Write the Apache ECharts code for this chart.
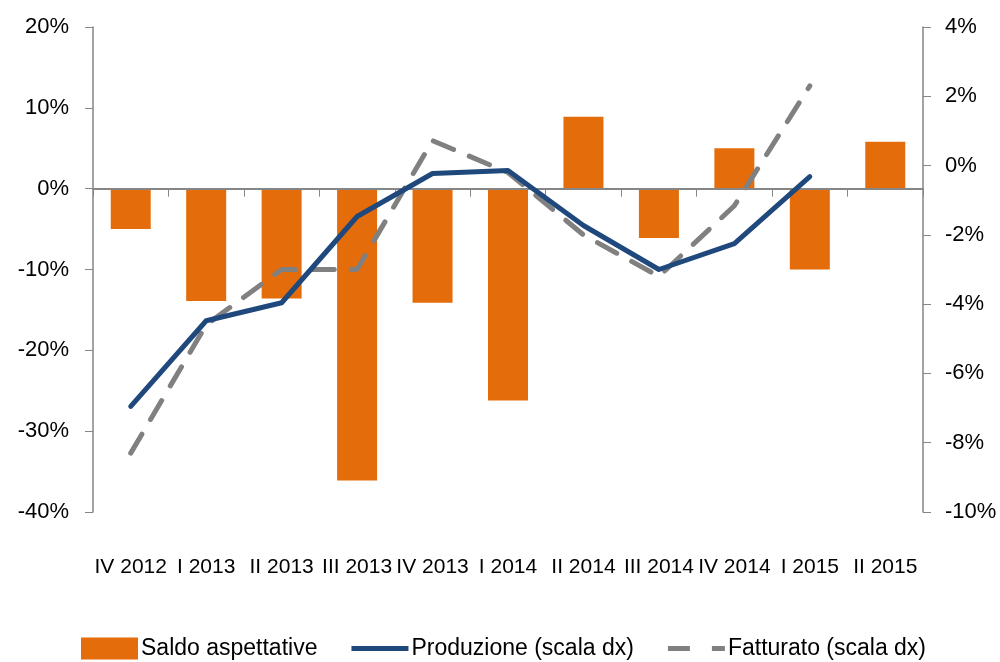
<!DOCTYPE html>
<html>
<head>
<meta charset="utf-8">
<script src="https://cdn.jsdelivr.net/npm/echarts@6/dist/echarts.min.js"></script>
<style>
  html, body { margin: 0; padding: 0; background: #fff; }
  #main { width: 1000px; height: 662px; }
</style>
</head>
<body>
<div id="main"></div>
<script>
// dati
var categories = ["IV 2012", "I 2013", "II 2013", "III 2013", "IV 2013", "I 2014",
  "II 2014", "III 2014", "IV 2014", "I 2015", "II 2015"];
var saldoAspettative = [-5.0, -13.9, -13.6, -36.1, -14.1, -26.2, 8.9, -6.1, 5.0, -10.0, 5.8];
var produzione = [-6.95, -4.48, -3.96, -1.47, -0.23, -0.14, -1.73, -3.0, -2.25, -0.32, null];
var fatturato = [-8.3, -4.6, -3.0, -3.0, 0.72, -0.2, -2.0, -3.2, -1.16, 2.3, null];

var font = "'Liberation Sans', Arial, sans-serif";

var myChart = echarts.init(document.getElementById("main"));
var option = {
  backgroundColor: "#fff",
  animation: false,
  textStyle: { fontFamily: font },
  grid: { left: 93, right: 77, top: 27, bottom: 150 },
  legend: {
    top: 632,
    left: 76,
    itemGap: 34,
    itemWidth: 57,
    itemHeight: 22,
    textStyle: { fontSize: 23, color: "#000", fontFamily: font, padding: [0, 0, 0, -2] },
    data: [
      { name: "Saldo aspettative", icon: "rect" },
      { name: "Produzione (scala dx)", icon: "path://M0,0 L57,0 L57,5 L0,5 Z" },
      { name: "Fatturato (scala dx)", icon: "path://M0,0 L22,0 L22,5 L0,5 Z M44,0 L57,0 L57,5 L44,5 Z" }
    ]
  },
  xAxis: [
    {
      type: "category",
      data: categories,
      axisLine: { onZero: true, onZeroAxisIndex: 0, lineStyle: { color: "#868686", width: 2 } },
      axisTick: { show: true, length: 8, lineStyle: { color: "#868686", width: 1 } },
      axisLabel: { show: false },
      z: 5
    },
    {
      type: "category",
      data: categories,
      position: "bottom",
      axisLine: { show: false },
      axisTick: { show: false },
      axisLabel: { color: "#000", fontSize: 21, margin: 45, interval: 0, fontFamily: font }
    }
  ],
  yAxis: [
    {
      type: "value",
      min: -40, max: 20, interval: 10,
      splitLine: { show: false },
      axisLine: { show: true, lineStyle: { color: "#868686", width: 1.5 } },
      axisTick: { show: true, length: 8, lineStyle: { color: "#868686" } },
      axisLabel: { color: "#000", fontSize: 22, margin: 24, formatter: "{value}%", fontFamily: font }
    },
    {
      type: "value",
      min: -10, max: 4, interval: 2,
      splitLine: { show: false },
      axisLine: { show: true, lineStyle: { color: "#868686", width: 1.5 } },
      axisTick: { show: true, length: 8, lineStyle: { color: "#868686" } },
      axisLabel: { color: "#000", fontSize: 22, margin: 22, formatter: "{value}%", fontFamily: font }
    }
  ],
  series: [
    {
      name: "Saldo aspettative",
      type: "bar",
      xAxisIndex: 0,
      yAxisIndex: 0,
      barWidth: "53%",
      itemStyle: { color: "#E46C0A" },
      data: saldoAspettative
    },
    {
      name: "Produzione (scala dx)",
      type: "line",
      xAxisIndex: 0,
      yAxisIndex: 1,
      symbol: "none",
      color: "#1F497D",
      lineStyle: { color: "#1F497D", width: 5, cap: "round", join: "round" },
      data: produzione,
      z: 6
    },
    {
      name: "Fatturato (scala dx)",
      type: "line",
      xAxisIndex: 0,
      yAxisIndex: 1,
      symbol: "none",
      color: "#808080",
      lineStyle: { color: "#808080", width: 5, type: [22, 17], cap: "round" },
      data: fatturato,
      z: 4
    }
  ]
};
myChart.setOption(option);
</script>
</body>
</html>
